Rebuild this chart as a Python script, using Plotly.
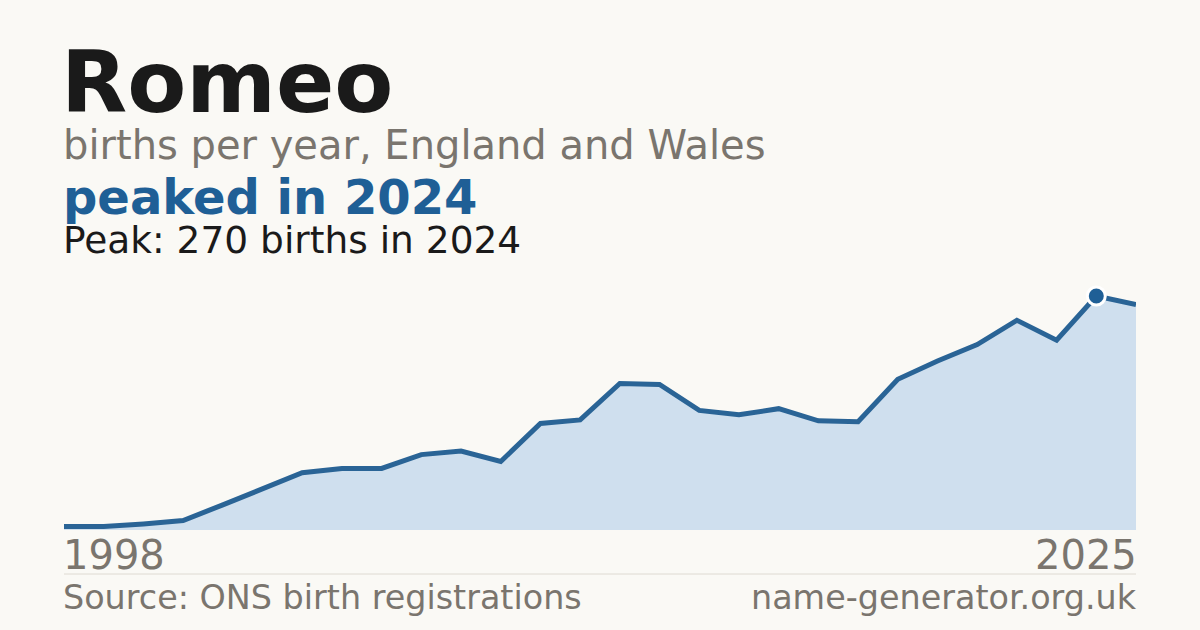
import plotly.graph_objects as go

years = list(range(1998, 2026))
births = [4, 4, 7, 11, 29, 48, 66, 71, 71, 87, 91, 79, 123, 127, 169, 168,
          138, 133, 140, 126, 125, 174, 195, 214, 242, 219, 270, 260]
peak_year = 2024
peak_value = 270

name = "Romeo"
subtitle = "births per year, England and Wales"
headline = "peaked in 2024"
peak_text = "Peak: 270 births in 2024"
first_label = "1998"
last_label = "2025"
source_text = "Source: ONS birth registrations"
site_text = "name-generator.org.uk"

W, H = 1200, 630
BG = "#faf9f5"
BLUE = "#1f5f96"
GRAY = "#7a756e"
DARK = "#1a1a1a"
FONT = "DejaVu Sans"

def px(x):
    return x / W

def py(y):
    return (H - y) / H

fig = go.Figure()
fig.add_trace(go.Scatter(
    x=years, y=births, mode="lines", fill="tozeroy",
    fillcolor="#cfdfee", line=dict(color="#2a6496", width=5),
    hoverinfo="skip", showlegend=False, cliponaxis=True,
))
fig.add_trace(go.Scatter(
    x=[peak_year], y=[peak_value], mode="markers",
    marker=dict(size=18, color=BLUE, line=dict(color="white", width=3)),
    hoverinfo="skip", showlegend=False, cliponaxis=False,
))

ymax = 270 * 250 / 234

fig.update_layout(
    width=W, height=H, margin=dict(l=0, r=0, t=0, b=0),
    paper_bgcolor=BG, plot_bgcolor=BG,
    xaxis=dict(domain=[px(64), px(1136)], range=[1998, 2025], visible=False,
               fixedrange=True),
    yaxis=dict(domain=[py(530), py(280)], range=[0, ymax], visible=False,
               fixedrange=True),
    font=dict(family=FONT),
)

def text(t, x, baseline, size, color, bold=False, anchor="left"):
    fig.add_annotation(
        text=f"<b>{t}</b>" if bold else t,
        xref="paper", yref="paper", x=px(x), y=py(baseline + 0.235 * size),
        xanchor=anchor, yanchor="bottom", showarrow=False,
        font=dict(family=FONT, size=size, color=color), borderpad=0,
    )

text(name, 60, 113, 86, DARK, bold=True)
text(subtitle, 62, 160, 40, GRAY)
text(headline, 62, 215, 48, BLUE, bold=True)
text(peak_text, 62, 254, 37.5, DARK)
text(first_label, 62, 570, 40, GRAY)
text(last_label, 1138, 570, 40, GRAY, anchor="right")
text(source_text, 62, 610, 33.4, GRAY)
text(site_text, 1138, 610, 33.4, GRAY, anchor="right")

fig.add_shape(type="line", xref="paper", yref="paper",
              x0=px(64), x1=px(1136), y0=py(574), y1=py(574),
              line=dict(color="#dedad2", width=1))

fig.write_html(
    "out.html",
    config={"displayModeBar": False, "staticPlot": True},
    post_script="document.body.style.margin='0';document.body.style.overflow='hidden';"
                "document.body.style.background='" + BG + "';",
)
